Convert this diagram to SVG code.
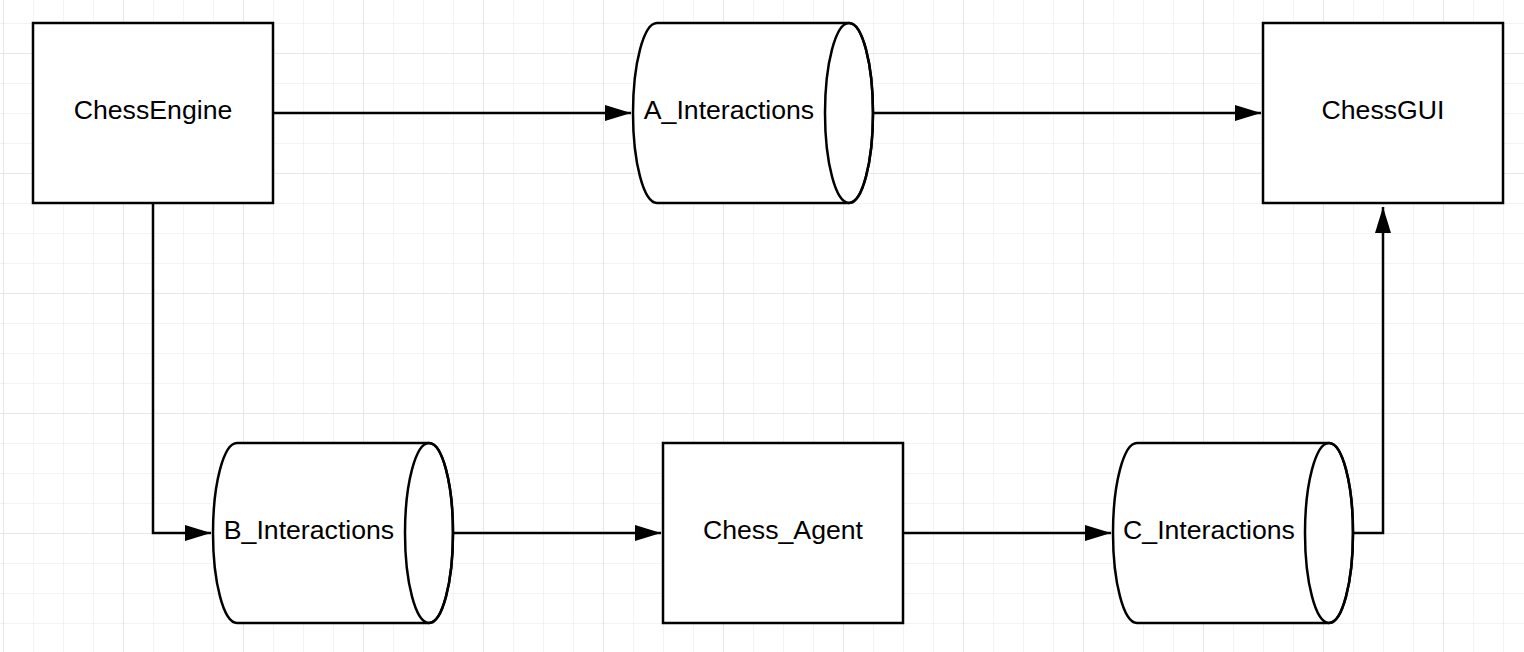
<svg xmlns="http://www.w3.org/2000/svg" width="1524" height="652" viewBox="0 0 1524 652">
  <style>
    .shape { fill: #ffffff; stroke: #000000; stroke-width: 2.5; }
    .inner { fill: none; stroke: #000000; stroke-width: 2.5; }
    .label { font-family: "Liberation Sans", Arial, sans-serif; font-size: 26.67px; fill: #000000; text-anchor: middle; }
    .edge { fill: none; stroke: #000000; stroke-width: 2.5; }
  </style>
  <defs>
    <pattern id="minor" patternUnits="userSpaceOnUse" x="3" y="23" width="30" height="30">
      <path d="M0,0 H30 M0,0 V30" fill="none" stroke="#e8e8e8" stroke-width="1"/>
    </pattern>
    <pattern id="major" patternUnits="userSpaceOnUse" x="3" y="53" width="120" height="120">
      <path d="M0,0 H120 M0,0 V120" fill="none" stroke="#dcdcdc" stroke-width="1"/>
    </pattern>
    <marker id="arrow" markerUnits="userSpaceOnUse" markerWidth="28" markerHeight="18" refX="26" refY="8" orient="auto">
      <path d="M0,0 L26,8 L0,16 Z" fill="#000000"/>
    </marker>
  </defs>

  <rect width="1524" height="652" fill="#ffffff"/>
  <rect width="1524" height="652" fill="url(#minor)"/>
  <rect width="1524" height="652" fill="url(#major)"/>

  <g id="connectors">
    <path class="edge" d="M273,113 H631" marker-end="url(#arrow)"/>
    <path class="edge" d="M873,113 H1261" marker-end="url(#arrow)"/>
    <path class="edge" d="M153,203 V533 H211" marker-end="url(#arrow)"/>
    <path class="edge" d="M453,533 H661" marker-end="url(#arrow)"/>
    <path class="edge" d="M903,533 H1111" marker-end="url(#arrow)"/>
    <path class="edge" d="M1353,533 H1383 V207" marker-end="url(#arrow)"/>
  </g>

  <g id="ChessEngine">
    <rect class="shape" x="33" y="23" width="240" height="180"/>
    <text class="label" x="153" y="119">ChessEngine</text>
  </g>

  <g id="A_Interactions">
    <path class="shape" d="M657,23 L849,23 A24,90 0 0 1 849,203 L657,203 A24,90 0 0 1 657,23 Z"/>
    <ellipse class="inner" cx="849" cy="113" rx="24" ry="90"/>
    <text class="label" x="729" y="119">A_Interactions</text>
  </g>

  <g id="ChessGUI">
    <rect class="shape" x="1263" y="23" width="240" height="180"/>
    <text class="label" x="1383" y="119">ChessGUI</text>
  </g>

  <g id="B_Interactions">
    <path class="shape" d="M237,443 L429,443 A24,90 0 0 1 429,623 L237,623 A24,90 0 0 1 237,443 Z"/>
    <ellipse class="inner" cx="429" cy="533" rx="24" ry="90"/>
    <text class="label" x="309" y="539">B_Interactions</text>
  </g>

  <g id="Chess_Agent">
    <rect class="shape" x="663" y="443" width="240" height="180"/>
    <text class="label" x="783" y="539">Chess_Agent</text>
  </g>

  <g id="C_Interactions">
    <path class="shape" d="M1137,443 L1329,443 A24,90 0 0 1 1329,623 L1137,623 A24,90 0 0 1 1137,443 Z"/>
    <ellipse class="inner" cx="1329" cy="533" rx="24" ry="90"/>
    <text class="label" x="1209" y="539">C_Interactions</text>
  </g>
</svg>
